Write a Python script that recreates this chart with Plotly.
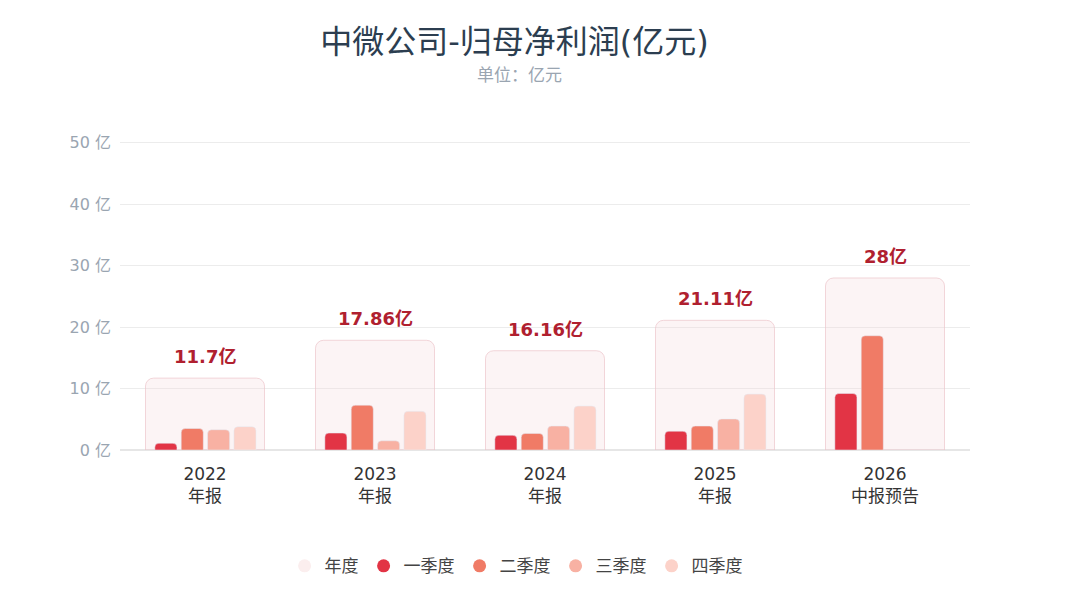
import plotly.graph_objects as go

# 中微公司 归母净利润 (亿元)
periods = ['2022<br>年报', '2023<br>年报', '2024<br>年报', '2025<br>年报', '2026<br>中报预告']
annual = [11.7, 17.86, 16.16, 21.11, 28]
q1 = [1.1, 2.76, 2.4, 3.06, 9.2]
q2 = [3.5, 7.3, 2.7, 3.9, 18.6]
q3 = [3.3, 1.5, 3.9, 5.05, None]
q4 = [3.8, 6.3, 7.16, 9.1, None]
y_ticks = [0, 10, 20, 30, 40, 50]

quarter_names = ['一季度', '二季度', '三季度', '四季度']
quarter_colors = ['#e23445', '#f07b66', '#f8b1a3', '#fcd2c9']

font_family = 'DejaVu Sans, Noto Sans CJK SC, sans-serif'
cjk_font = 'Noto Sans CJK SC, DejaVu Sans, sans-serif'

fig = go.Figure()

# 年度背景柱
fig.add_trace(go.Bar(
    x=periods,
    y=annual,
    width=0.7,
    offset=-0.35,
    marker=dict(color='rgba(246, 214, 218, 0.28)',
                line=dict(color='rgba(236, 196, 202, 0.7)', width=1),
                cornerradius=8),
    showlegend=False,
    hoverinfo='skip',
))

bar_w = 0.13
step = 0.155
for i, (name, vals, color) in enumerate(zip(quarter_names, [q1, q2, q3, q4], quarter_colors)):
    fig.add_trace(go.Bar(
        x=periods,
        y=vals,
        name=name,
        width=bar_w,
        offset=-0.295 + i * step,
        marker=dict(color=color, cornerradius=4),
        showlegend=False,
    ))

# 年度数值标签
for p, v in zip(periods, annual):
    fig.add_annotation(
        x=p, y=v, text=f'<b>{v:g}亿</b>', showarrow=False,
        yanchor='bottom', yshift=9,
        font=dict(color='#b0202f', size=18, family=font_family),
    )

# 图例 (圆点)
legend_names = ['年度'] + quarter_names
legend_colors = ['#fbeeee'] + quarter_colors
for name, color in zip(legend_names, legend_colors):
    fig.add_trace(go.Scatter(
        x=[None], y=[None], mode='markers', name=name,
        marker=dict(color=color, size=13, symbol='circle'),
    ))

fig.add_annotation(
    text='单位：亿元', xref='paper', yref='paper', x=0.47, y=1.0, xanchor='center',
    yanchor='bottom', yshift=53, showarrow=False,
    font=dict(size=17, color='#9aa5b1', family=cjk_font),
)

fig.update_layout(
    width=1080,
    height=600,
    barmode='overlay',
    plot_bgcolor='white',
    paper_bgcolor='white',
    font=dict(family=font_family, color='#333'),
    title=dict(
        text='中微公司-归母净利润(亿元)',
        x=0.469, xanchor='center', y=0.943, yanchor='middle',
        font=dict(size=32, color='#2c3e50', family=font_family),
    ),
    margin=dict(l=112, r=118, t=133, b=158),
    legend=dict(orientation='h', x=0.466, xanchor='center', y=-0.318, yanchor='top',
                font=dict(size=17, color='#444', family=cjk_font), itemwidth=30,
                tracegroupgap=0),
    showlegend=True,
)

fig.update_yaxes(
    range=[0, 50.3],
    tickvals=y_ticks,
    ticktext=[f'{v} 亿' for v in y_ticks],
    tickfont=dict(size=16, color='#9aa5b1', family=font_family),
    gridcolor='#ececec',
    zeroline=True,
    zerolinecolor='#e6e6e6',
    ticks='',
    ticklabelstandoff=8,
)
fig.update_xaxes(
    tickfont=dict(size=17, color='#333', family=font_family),
    showgrid=False,
    showline=False,
    ticklabelstandoff=12,
)

fig.write_html('out.html')
